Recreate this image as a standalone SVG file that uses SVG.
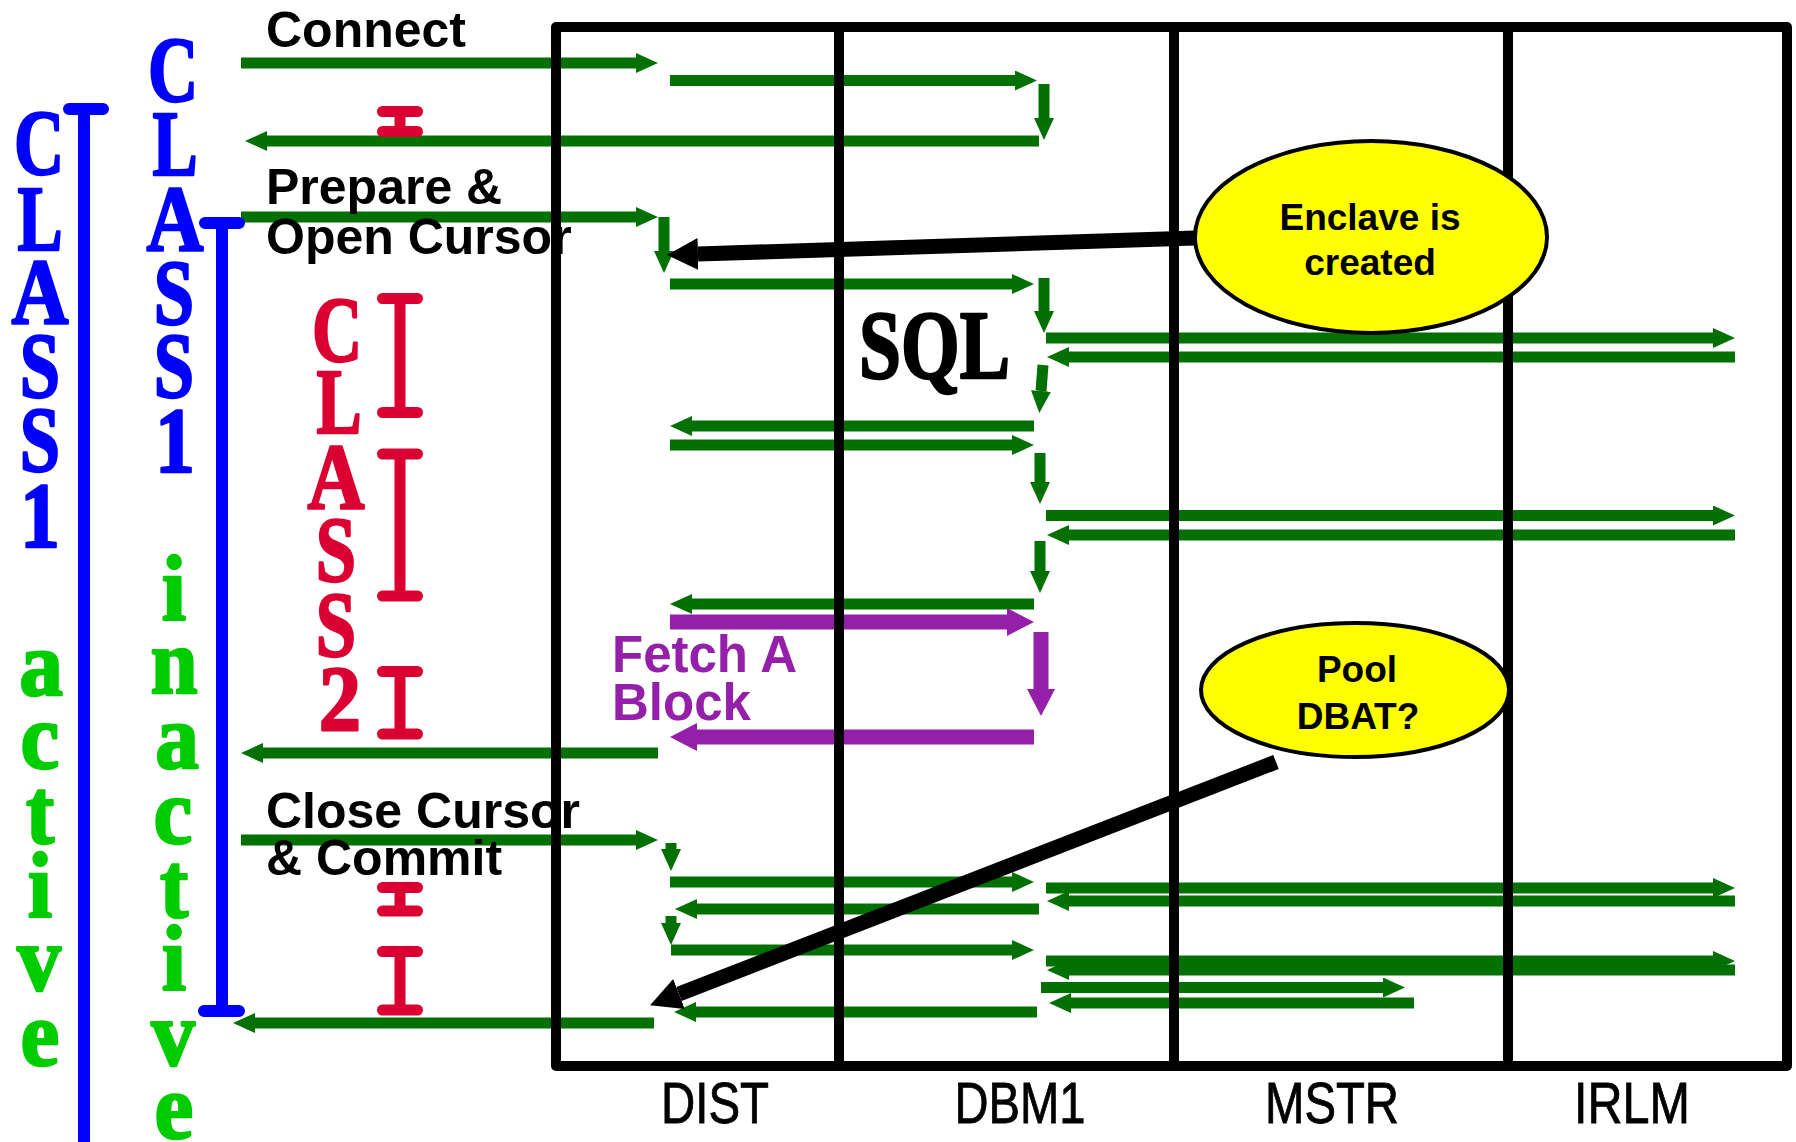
<svg xmlns="http://www.w3.org/2000/svg" width="1796" height="1142" viewBox="0 0 1796 1142">
<style>
.g{stroke:#037003;stroke-width:11;fill:none;marker-end:url(#ag)}
.p{stroke:#9420AA;stroke-width:15;fill:none;marker-end:url(#ap)}
.k{stroke:#000;stroke-width:15;fill:none;marker-end:url(#ak)}
.lab{font-family:"Liberation Sans",Arial,sans-serif;font-weight:bold;font-size:50px;fill:#000}
.pl{fill:#9420AA;font-size:51px}
.ser{font-family:"Liberation Serif","Times New Roman",serif;font-weight:bold;font-size:94px;text-anchor:middle;stroke-width:2.5;stroke-linejoin:round}
.b{fill:#0000FF;stroke:#0000FF}.gr{fill:#00CC00;stroke:#00CC00}.r{fill:#DB0032;stroke:#DB0032}
.bar{stroke:#0000FF;stroke-width:12;stroke-linecap:round;fill:none}
.ib{stroke:#DB0032;stroke-width:11;stroke-linecap:round;fill:none}
.lane{font-family:"Liberation Sans",Arial,sans-serif;font-size:57px;fill:#000;text-anchor:middle;stroke:#000;stroke-width:0.8}
.grid{stroke:#000;stroke-width:10;fill:none;stroke-linejoin:round}
.ell{fill:#FFFF00;stroke:#000;stroke-width:4}
.et{font-family:"Liberation Sans",Arial,sans-serif;font-weight:bold;font-size:37px;text-anchor:middle;fill:#000}
.sql{font-family:"Liberation Serif","Times New Roman",serif;font-weight:bold;font-size:98px;fill:#000;stroke:#000;stroke-width:2.5;stroke-linejoin:round}
</style>
<defs>
<marker id="ag" markerUnits="userSpaceOnUse" markerWidth="22" markerHeight="20" refX="0" refY="10" orient="auto"><path d="M0,0L22,10L0,20z" fill="#037003"/></marker>
<marker id="ap" markerUnits="userSpaceOnUse" markerWidth="27" markerHeight="28" refX="0" refY="14" orient="auto"><path d="M0,0L27,14L0,28z" fill="#9420AA"/></marker>
<marker id="ak" markerUnits="userSpaceOnUse" markerWidth="31" markerHeight="32" refX="0" refY="16" orient="auto"><path d="M0,0L31,16L0,32z" fill="#000"/></marker>
</defs>
<rect width="1796" height="1142" fill="#fff"/>

<g id="connectors">
<path class="g" d="M241,63H636"/>
<path class="g" d="M670,80.5H1015"/>
<path class="g" d="M1044,84V118"/>
<path class="g" d="M1039,141H267"/>
<path class="g" d="M241,217H636"/>
<path class="g" d="M664,217V251"/>
<path class="g" d="M670,284H1012"/>
<path class="g" d="M1044,278V311"/>
<path class="g" d="M1046,338H1713"/>
<path class="g" d="M1735,357H1069"/>
<path class="g" d="M1043,365L1041,391"/>
<path class="g" d="M1034,426H692"/>
<path class="g" d="M670,445H1012"/>
<path class="g" d="M1040,453V482"/>
<path class="g" d="M1046,515.5H1713"/>
<path class="g" d="M1735,535H1069"/>
<path class="g" d="M1040,541V571"/>
<path class="g" d="M1034,604H692"/>
<path class="p" d="M670,622H1007"/>
<path class="p" d="M1041,632V689"/>
<path class="p" d="M1034,737H697"/>
<path class="g" d="M658,753H263"/>
<path class="g" d="M241,840H636"/>
<path class="g" d="M671,843V849"/>
<path class="g" d="M670,882H1012"/>
<path class="g" d="M1046,888H1713"/>
<path class="g" d="M1735,901H1069"/>
<path class="g" d="M1039,909H697"/>
<path class="g" d="M671,916V923"/>
<path class="g" d="M671,950H1012"/>
<path class="g" d="M1046,961H1713"/>
<path class="g" d="M1735,970H1069"/>
<path class="g" d="M1041,987.5H1383"/>
<path class="g" d="M1414,1003H1071"/>
<path class="g" d="M1037,1012H696"/>
<path class="g" d="M654,1023H255"/>
</g>

<g id="lanes">
<rect class="grid" x="556" y="27" width="1231" height="1039"/>
<path class="grid" d="M839,27V1066M1174,27V1066M1508,27V1066"/>
<text class="lane" x="715" y="1123" textLength="108" lengthAdjust="spacingAndGlyphs">DIST</text>
<text class="lane" x="1020" y="1123" textLength="131" lengthAdjust="spacingAndGlyphs">DBM1</text>
<text class="lane" x="1332" y="1123" textLength="134" lengthAdjust="spacingAndGlyphs">MSTR</text>
<text class="lane" x="1632" y="1123" textLength="116" lengthAdjust="spacingAndGlyphs">IRLM</text>
</g>

<g id="sql-label">
<text class="sql" x="859" y="378" textLength="151" lengthAdjust="spacingAndGlyphs">SQL</text>
</g>

<g id="step-labels">
<text class="lab" x="266" y="47">Connect</text>
<text class="lab" x="266" y="204">Prepare &amp;</text>
<text class="lab" x="266" y="254">Open Cursor</text>
<text class="lab" x="266" y="828">Close Cursor</text>
<text class="lab" x="266" y="875">&amp; Commit</text>
<text class="lab pl" x="612" y="672">Fetch A</text>
<text class="lab pl" x="612" y="720">Block</text>
</g>

<g id="class1-outer">
<path class="bar" d="M69,109H103M84,109V1160"/>
<text class="ser b" transform="translate(39 174) scale(0.74 1)">C</text>
<text class="ser b" transform="translate(40 250) scale(0.72 1)">L</text>
<text class="ser b" transform="translate(40 323) scale(0.84 1)">A</text>
<text class="ser b" transform="translate(40 397) scale(0.77 1)">S</text>
<text class="ser b" transform="translate(40 471) scale(0.77 1)">S</text>
<text class="ser b" transform="translate(40 547) scale(0.85 1)">1</text>
<text class="ser gr" transform="translate(41 695) scale(0.93 1)">a</text>
<text class="ser gr" transform="translate(40 768) scale(0.93 1)">c</text>
<text class="ser gr" transform="translate(40 843) scale(0.9 1)">t</text>
<text class="ser gr" transform="translate(40 917) scale(0.93 1)">i</text>
<text class="ser gr" transform="translate(39 990) scale(0.93 1)">v</text>
<text class="ser gr" transform="translate(40 1065) scale(0.93 1)">e</text>
</g>

<g id="class1-inner">
<path class="bar" d="M205,223H239M222,223V1011M204,1011H239"/>
<text class="ser b" transform="translate(173 101) scale(0.74 1)">C</text>
<text class="ser b" transform="translate(175 175) scale(0.72 1)">L</text>
<text class="ser b" transform="translate(175 250) scale(0.84 1)">A</text>
<text class="ser b" transform="translate(174 324) scale(0.77 1)">S</text>
<text class="ser b" transform="translate(174 397) scale(0.77 1)">S</text>
<text class="ser b" transform="translate(175 472) scale(0.85 1)">1</text>
<text class="ser gr" transform="translate(174 620) scale(0.93 1)">i</text>
<text class="ser gr" transform="translate(174 693) scale(0.9 1)">n</text>
<text class="ser gr" transform="translate(177 768) scale(0.93 1)">a</text>
<text class="ser gr" transform="translate(173 843) scale(0.93 1)">c</text>
<text class="ser gr" transform="translate(174 917) scale(0.9 1)">t</text>
<text class="ser gr" transform="translate(174 990) scale(0.93 1)">i</text>
<text class="ser gr" transform="translate(173 1065) scale(0.93 1)">v</text>
<text class="ser gr" transform="translate(174 1138) scale(0.93 1)">e</text>
</g>

<g id="class2">
<text class="ser r" transform="translate(337 361) scale(0.74 1)">C</text>
<text class="ser r" transform="translate(339 433) scale(0.72 1)">L</text>
<text class="ser r" transform="translate(336 508) scale(0.84 1)">A</text>
<text class="ser r" transform="translate(336 581) scale(0.77 1)">S</text>
<text class="ser r" transform="translate(336 656) scale(0.77 1)">S</text>
<text class="ser r" transform="translate(340 730) scale(0.9 1)">2</text>
<path class="ib" d="M382.5,111.5H417.5M400,111.5V131.5M382.5,131.5H417.5"/>
<path class="ib" d="M382.5,298.5H417.5M400,298.5V412.5M382.5,412.5H417.5"/>
<path class="ib" d="M382.5,454H417.5M400,454V596M382.5,596H417.5"/>
<path class="ib" d="M382.5,671.5H417.5M400,671.5V734M382.5,734H417.5"/>
<path class="ib" d="M382.5,887.5H417.5M400,887.5V911M382.5,911H417.5"/>
<path class="ib" d="M382.5,951.5H417.5M400,951.5V1010M382.5,1010H417.5"/>
</g>

<g id="callout-arrows">
<path class="k" d="M1195,238L698,254"/>
<path class="k" d="M1276,762L679,994"/>
</g>

<g id="enclave">
<ellipse class="ell" cx="1371" cy="237" rx="176" ry="96"/>
<text class="et" x="1370" y="230">Enclave is</text>
<text class="et" x="1370" y="275">created</text>
</g>

<g id="pool-dbat">
<ellipse class="ell" cx="1355" cy="690" rx="154" ry="67"/>
<text class="et" x="1357" y="682" font-size="35">Pool</text>
<text class="et" x="1358" y="729" font-size="35">DBAT?</text>
</g>
</svg>
